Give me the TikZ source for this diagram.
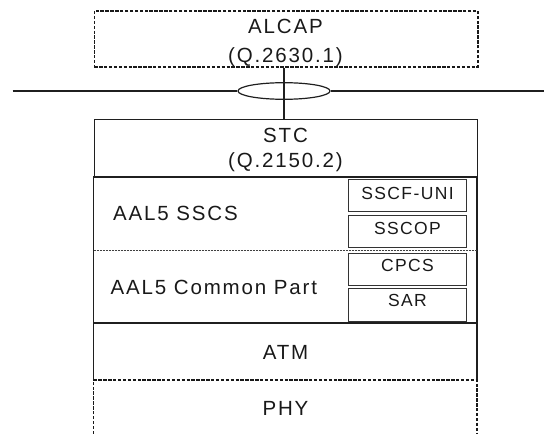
\documentclass[tikz,border=0pt]{standalone}
\usepackage{fontspec}
\setmainfont{Liberation Sans}[LetterSpace=9]
\newfontfamily\smallspaced{Liberation Sans}[LetterSpace=8]
\usetikzlibrary{shapes.geometric}
\begin{document}
\begin{tikzpicture}[x=1pt,y=-1pt,
  ink/.style={draw=black!88},
  mainline/.style={ink, line width=1.2pt},
  thickline/.style={ink, line width=2.1pt},
  dashline/.style={draw=black!90, line width=1.5pt, dash pattern=on 3.4pt off 1.5pt},
  dotline/.style={draw=black!75, line width=0.7pt, dash pattern=on 0.8pt off 0.7pt},
  subbox/.style={draw=black!80, line width=0.8pt, rectangle, minimum width=117.4pt, minimum height=32.5pt, inner sep=0pt, anchor=north west},
  bigtxt/.style={font=\fontsize{20.5}{23}\selectfont, inner sep=0pt, anchor=base, text=black!90},
  leftbig/.style={bigtxt, anchor=base west},
  smalltxt/.style={font=\smallspaced\fontsize{17.5}{20}\selectfont, inner sep=0pt, anchor=base, text=black!90}
]
\useasboundingbox (0,0) rectangle (544,434);

% ALCAP box
\node[dashline, rectangle, minimum width=383.5pt, minimum height=56pt, inner sep=0pt, anchor=north west] (alcap) at (93.5,10) {};
\node[bigtxt] (alcapt) at (285.5,33.3) {ALCAP};
\node[bigtxt] (alcapq) at (285.5,62) {(Q.2630.1)};

% line with ellipse
\node[ellipse, draw=black!88, line width=1.2pt, minimum width=92pt, minimum height=16.6pt, inner sep=0pt] (ell) at (284,91) {};
\coordinate (lineL) at (12.7,91);
\coordinate (lineR) at (544,91);
\draw[mainline] (lineL) -- (ell.west);
\draw[mainline] (ell.east) -- (lineR);

% STC box
\node[mainline, rectangle, minimum width=383.5pt, minimum height=57pt, inner sep=0pt, anchor=north west] (stc) at (93.5,119) {};
\node[bigtxt] (stct) at (285.5,142.3) {STC};
\node[bigtxt] (stcq) at (285.5,167.6) {(Q.2150.2)};

% vertical connector
\draw[mainline] (alcap.south -| ell.center) -- (stc.north -| ell.center);

% AAL5 block
\coordinate (aalTL) at (93.5,176);
\coordinate (aalBR) at (477,323.3);
\draw[mainline] (aalTL) -- (aalTL |- aalBR);
\draw[mainline] (aalBR |- aalTL) -- (aalBR);
\coordinate (sepL) at (93.5,250);
\coordinate (sepR) at (477,250);
\draw[dotline] (sepL) -- (sepR);
\node[leftbig] (sscs) at (113,220.3) {AAL5 SSCS};
\node[leftbig] (cp) at (110.5,294) {AAL5 Common Part};

\node[subbox] (sscf) at (348.3,178.5) {};
\node[subbox] (sscop) at (348.3,214.5) {};
\node[subbox] (cpcs) at (348.3,252.5) {};
\node[subbox] (sar) at (348.3,288) {};
\node[smalltxt] at (407.5,199.3) {SSCF-UNI};
\node[smalltxt] at (407.5,234.6) {SSCOP};
\node[smalltxt] at (407.5,271.3) {CPCS};
\node[smalltxt] at (407.5,306) {SAR};

% ATM
\coordinate (atmTL) at (93.5,323.3);
\coordinate (atmBR) at (477,380);
\draw[mainline] (atmTL |- atmBR) -- (atmTL) -- (atmBR |- atmTL) -- (atmBR);
\node[bigtxt] (atm) at (285.5,359) {ATM};

% PHY
\coordinate (phyB1) at (93.5,434);
\coordinate (phyB2) at (477,434);
\draw[dashline] (phyB1) -- (atmTL |- atmBR) -- (atmBR) -- (phyB2);
\node[bigtxt] (phy) at (285.5,415.3) {PHY};

% thick separators
\draw[thickline] (stc.south west) -- (stc.south east);
\draw[thickline] (atmTL) -- (atmBR |- atmTL);
\end{tikzpicture}
\end{document}
